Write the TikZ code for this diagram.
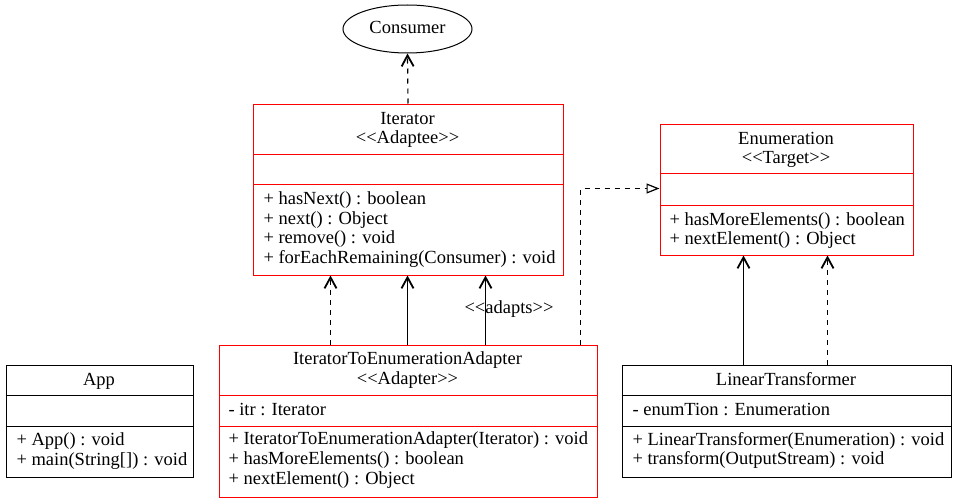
\documentclass[tikz,border=0pt]{standalone}
\usepackage{fontspec}
\setmainfont{Liberation Serif}[Ligatures=TeXOff]
\usetikzlibrary{arrows.meta,shapes.geometric}
\definecolor{umlred}{RGB}{255,0,0}
\begin{document}
\begin{tikzpicture}[x=1pt,y=-1pt,
  font=\fontsize{18.5}{20}\selectfont,
  line width=1pt,
  redbox/.style={draw=umlred, rectangle, inner sep=0pt, anchor=north west},
  blackbox/.style={draw=black, rectangle, inner sep=0pt, anchor=north west},
  reddiv/.style={draw=umlred},
  ctxt/.style={anchor=base, inner sep=0pt},
  ltxt/.style={anchor=base west, inner sep=0pt},
  tipv/.tip={Straight Barb[length=11pt,width=12pt,line width=1.8pt]},
  dep/.style={line width=1.2pt, dash pattern=on 5pt off 5pt, -tipv},
  assoc/.style={line width=1.4pt, -tipv},
  real/.style={line width=1.1pt, dash pattern=on 5pt off 5pt, -{Triangle[open,length=13pt,width=10pt,line width=1.2pt]}},
]
\useasboundingbox (0,0) rectangle (956,503);

% Consumer
\node[draw, ellipse, inner sep=0pt, minimum width=129pt, minimum height=48pt] (cons) at (407.5,29) {};
\node[ctxt] (consT) at (407.5,34) {Consumer};

% Iterator
\node[redbox, minimum width=310pt, minimum height=171pt] (iter) at (252.5,103.5) {};
\draw[reddiv] (iter.west |- 0,154.5) -- (iter.east |- 0,154.5);
\draw[reddiv] (iter.west |- 0,184.5) -- (iter.east |- 0,184.5);
\node[ctxt] (iterT) at (407.5,124) {Iterator};
\node[ctxt] (iterS) at (407.5,143.5) {<<Adaptee>>};
\node[ltxt] (iterM1) at (263,204) {+ hasNext() : boolean};
\node[ltxt] (iterM2) at (263,224) {+ next() : Object};
\node[ltxt] (iterM3) at (263,243.5) {+ remove() : void};
\node[ltxt] (iterM4) at (263,263.5) {+ forEachRemaining(Consumer) : void};

% Enumeration
\node[redbox, minimum width=253pt, minimum height=131pt] (enumbox) at (659.5,123.5) {};
\draw[reddiv] (enumbox.west |- 0,173.5) -- (enumbox.east |- 0,173.5);
\draw[reddiv] (enumbox.west |- 0,205.5) -- (enumbox.east |- 0,205.5);
\node[ctxt] (enumT) at (786,144.3) {Enumeration};
\node[ctxt] (enumS) at (786,163.5) {<<Target>>};
\node[ltxt] (enumM1) at (669,225) {+ hasMoreElements() : boolean};
\node[ltxt] (enumM2) at (669,244) {+ nextElement() : Object};

% App
\node[blackbox, minimum width=187pt, minimum height=112pt] (app) at (5.5,364.5) {};
\draw (app.west |- 0,395.5) -- (app.east |- 0,395.5);
\draw (app.west |- 0,426.5) -- (app.east |- 0,426.5);
\node[ctxt] (appT) at (99,385.5) {App};
\node[ltxt] (appM1) at (16,445) {+ App() : void};
\node[ltxt] (appM2) at (16,465) {+ main(String[]) : void};

% Adapter
\node[redbox, minimum width=378pt, minimum height=152pt] (adapter) at (218.5,344.5) {};
\draw[reddiv] (adapter.west |- 0,395.5) -- (adapter.east |- 0,395.5);
\draw[reddiv] (adapter.west |- 0,426.5) -- (adapter.east |- 0,426.5);
\node[ctxt] (adT) at (407.5,364) {IteratorToEnumerationAdapter};
\node[ctxt] (adS) at (407.5,384) {<<Adapter>>};
\node[ltxt] (adA1) at (228,415) {- itr : Iterator};
\node[ltxt] (adM1) at (228,444.5) {+ IteratorToEnumerationAdapter(Iterator) : void};
\node[ltxt] (adM2) at (228,464) {+ hasMoreElements() : boolean};
\node[ltxt] (adM3) at (228,484) {+ nextElement() : Object};

% LinearTransformer
\node[blackbox, minimum width=329pt, minimum height=112pt] (lt) at (621.5,364.5) {};
\draw (lt.west |- 0,395.5) -- (lt.east |- 0,395.5);
\draw (lt.west |- 0,426.5) -- (lt.east |- 0,426.5);
\node[ctxt] (ltT) at (786,385.5) {LinearTransformer};
\node[ltxt] (ltA1) at (632,415) {- enumTion : Enumeration};
\node[ltxt] (ltM1) at (632,445) {+ LinearTransformer(Enumeration) : void};
\node[ltxt] (ltM2) at (632,464.5) {+ transform(OutputStream) : void};

% connectors
\draw[dep] (iter.north) -- (cons.south);
\draw[dep] ([xshift=112pt]adapter.north west) -- ([xshift=78pt]iter.south west);
\draw[assoc] ([xshift=189pt]adapter.north west) -- ([xshift=155pt]iter.south west);
\draw[assoc] ([xshift=267pt]adapter.north west) -- ([xshift=233pt]iter.south west);
\node[ctxt] (adaptsL) at (509,313) {<<adapts>>};
\draw[real] ([xshift=362pt]adapter.north west) |- ([yshift=-65pt]enumbox.north west);
\draw[assoc] ([xshift=122pt]lt.north west) -- ([xshift=84pt]enumbox.south west);
\draw[dep] ([xshift=206pt]lt.north west) -- ([xshift=168pt]enumbox.south west);
\end{tikzpicture}
\end{document}
